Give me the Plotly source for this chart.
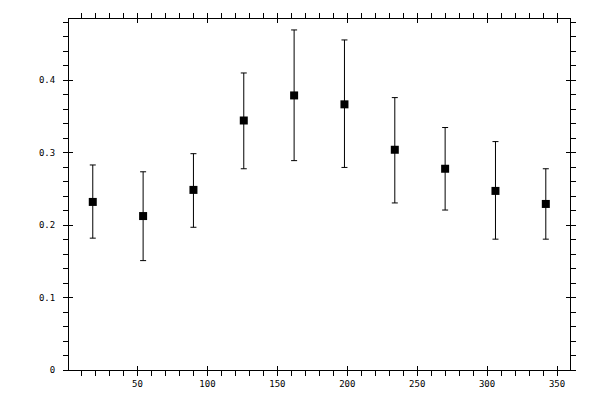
import plotly.graph_objects as go

# bin centres (degrees) and measured values with asymmetric bounds
angle = [18, 54, 90, 126, 162, 198, 234, 270, 306, 342]
value = [0.232, 0.2125, 0.2486, 0.3444, 0.379, 0.3667, 0.304, 0.2778, 0.2472, 0.2292]
upper = [0.283, 0.2736, 0.2986, 0.410, 0.4694, 0.4556, 0.376, 0.3347, 0.3153, 0.2778]
lower = [0.182, 0.151, 0.197, 0.2778, 0.289, 0.2796, 0.2306, 0.2208, 0.1806, 0.1806]

err_plus = [u - v for u, v in zip(upper, value)]
err_minus = [v - l for v, l in zip(value, lower)]

xr = [1, 359.3]
yr = [0, 0.4845]

fig = go.Figure()

fig.add_trace(go.Scatter(
    x=angle, y=value, mode='markers',
    marker=dict(symbol='square', size=8, color='black'),
    error_y=dict(type='data', symmetric=False, array=err_plus, arrayminus=err_minus,
                 color='black', thickness=1, width=3),
    showlegend=False,
))

# empty trace so the overlay axes (inner half of the crossing ticks) get drawn
fig.add_trace(go.Scatter(x=[None], y=[None], xaxis='x2', yaxis='y2', showlegend=False))

font = dict(family='DejaVu Sans Mono', size=9, color='black')

fig.update_layout(
    width=600, height=400,
    margin=dict(l=69, r=30, t=19, b=30),
    plot_bgcolor='white', paper_bgcolor='white',
    font=font,
    hovermode=False,
    xaxis=dict(range=xr, dtick=50, tick0=0, showgrid=False, zeroline=False,
               showline=True, linecolor='black', linewidth=1, mirror='allticks',
               ticks='outside', ticklen=5, tickcolor='black', tickwidth=1,
               minor=dict(dtick=10, tick0=0, ticks='outside', ticklen=5, tickcolor='black', showgrid=False),
               tickfont=font),
    yaxis=dict(range=yr, dtick=0.1, tick0=0, showgrid=False, zeroline=False,
               showline=True, linecolor='black', linewidth=1, mirror='allticks',
               ticks='outside', ticklen=5, tickcolor='black', tickwidth=1,
               minor=dict(dtick=0.02, tick0=0, ticks='outside', ticklen=5, tickcolor='black', showgrid=False),
               tickfont=font, ticklabelstandoff=6),
    xaxis2=dict(range=xr, dtick=50, tick0=0, overlaying='x', showgrid=False, zeroline=False,
                showline=False, mirror='ticks', ticks='inside', ticklen=4, tickcolor='black',
                showticklabels=False),
    yaxis2=dict(range=yr, dtick=0.1, tick0=0, overlaying='y', showgrid=False, zeroline=False,
                showline=False, mirror='ticks', ticks='inside', ticklen=4, tickcolor='black',
                showticklabels=False),
)

# drop the default 8px body margin so the figure sits at the page origin
fig.write_html("out.html", config={'displayModeBar': False},
               post_script="document.body.style.margin = '0';")
